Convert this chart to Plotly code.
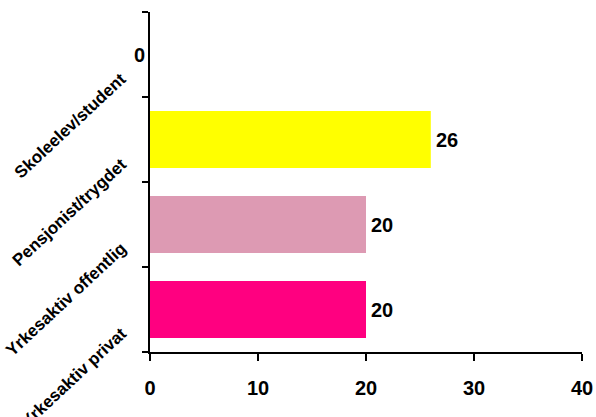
import plotly.graph_objects as go

categories = ["Yrkesaktiv privat", "Yrkesaktiv offentlig", "Pensjonist/trygdet", "Skoleelev/student"]
values = [20, 20, 26, 0]
colors = ["#FF0080", "#DD9AB3", "#FFFF00", "#FFFFFF"]
x_ticks = [0, 10, 20, 30, 40]

FONT = "Liberation Sans, Arial, sans-serif"

fig = go.Figure()
fig.add_trace(go.Bar(
    x=values, y=categories, orientation="h",
    marker=dict(color=colors, line=dict(width=0)),
    hoverinfo="skip",
))

annotations = []
for c, v in zip(categories, values):
    if v == 0:
        annotations.append(dict(x=v, y=c, xref="x", yref="y", text="<b>%d</b>" % v, showarrow=False,
                                xanchor="right", xshift=-3,
                                font=dict(family=FONT, size=20, color="#000")))
    else:
        annotations.append(dict(x=v, y=c, xref="x", yref="y", text="<b>%d</b>" % v, showarrow=False,
                                xanchor="left", xshift=3,
                                font=dict(family=FONT, size=20, color="#000")))
# category labels
for c in categories:
    annotations.append(dict(x=0, y=c, xref="paper", yref="y", text="<b>%s</b>" % c, showarrow=False,
                            textangle=-43, xanchor="right", yanchor="top", xshift=-17, yshift=-12,
                            font=dict(family=FONT, size=17, color="#000")))

fig.update_layout(
    width=596, height=417,
    margin=dict(l=150, r=14, t=12, b=65),
    paper_bgcolor="white", plot_bgcolor="white",
    showlegend=False,
    bargap=0.33,
    annotations=annotations,
    xaxis=dict(
        range=[0, 40], tickvals=x_ticks, ticktext=["<b>%d</b>" % t for t in x_ticks],
        showgrid=False, zeroline=False, showline=True, linecolor="#000", linewidth=1.5,
        ticks="outside", ticklen=7, tickcolor="#000", tickwidth=1.5,
        tickfont=dict(family=FONT, size=20, color="#000"),
        ticklabelstandoff=10, automargin=False,
        fixedrange=True,
    ),
    yaxis=dict(
        categoryorder="array", categoryarray=categories, range=[-0.5, 3.5],
        showticklabels=False,
        showgrid=False, zeroline=False, showline=True, linecolor="#000", linewidth=1.5,
        ticks="outside", ticklen=6, tickcolor="#000", tickwidth=1.5,
        tickson="boundaries", automargin=False,
        fixedrange=True,
    ),
)

fig.write_html(
    "out.html",
    config={"displayModeBar": False},
    post_script="document.body.style.margin='0';document.body.style.overflow='hidden';",
)
